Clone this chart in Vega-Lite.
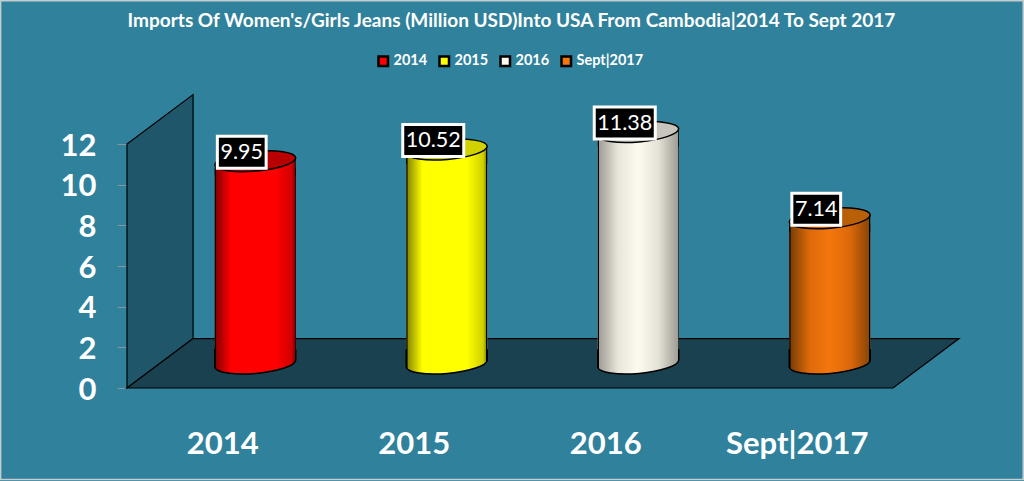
{
"$schema":"https://vega.github.io/schema/vega-lite/v6.json",
"width":766,"height":244,
"autosize":{"type":"none"},
"padding":{"left":127,"top":144,"right":131,"bottom":93},
"background":"#30819b",
"config":{"view":{"stroke":null},"font":"Lato"},
"title":{"text":"Imports Of Women's/Girls Jeans (Million USD)Into USA From Cambodia|2014 To Sept 2017","anchor":"middle","frame":"group","offset":-31,"dx":1.5,"color":"#ffffff","font":"Lato","fontWeight":"bold","fontSize":19},
"datasets":{
"values":[{"label":"2014","value":9.95},{"label":"2015","value":10.52},{"label":"2016","value":11.38},{"label":"Sept|2017","value":7.14}],
"border":[{"x":-0.66,"x2":4.68,"y":-4.5,"y2":19.04}],
"wall":[{"x":0,"y":12,"y2":0},{"x":0.345,"y":14.43,"y2":2.43}],
"floor":[{"x":0,"y":0,"y2":0},{"x":0.345,"y":2.43,"y2":0},{"x":4,"y":2.43,"y2":0},{"x":4.345,"y":2.43,"y2":2.43}]
},
"resolve":{"scale":{"x":"independent"}},
"layer":[
{"layer":[
{"data":{"name":"border"},"mark":{"type":"rect","fill":"transparent","stroke":"#c4cdd0","strokeWidth":1.5},"encoding":{"x2":{"field":"x2"},"y2":{"field":"y2"},"x":{"field":"x","type":"quantitative","scale":{"domain":[0,4],"nice":false,"zero":false},"axis":null},"y":{"field":"y","type":"quantitative","scale":{"domain":[0,12],"nice":false},"axis":{"values":[0,2,4,6,8,10,12],"grid":false,"domain":false,"ticks":true,"tickColor":"#7f98a2","tickSize":10,"tickWidth":1,"labelColor":"#ffffff","labelFont":"Lato","labelFontWeight":"bold","labelFontSize":31,"labelPadding":21,"labelOffset":2,"title":null}}}},
{"data":{"name":"wall"},"mark":{"type":"area","fill":"#20566a","stroke":"#000000","strokeWidth":1.2,"opacity":1},"encoding":{"x":{"field":"x","type":"quantitative"},"y":{"field":"y","type":"quantitative"},"y2":{"field":"y2"}}},
{"data":{"name":"floor"},"mark":{"type":"area","fill":"#1a4150","stroke":"#000000","strokeWidth":1.2,"opacity":1},"encoding":{"x":{"field":"x","type":"quantitative"},"y":{"field":"y","type":"quantitative"},"y2":{"field":"y2"}}}
]},
{"data":{"name":"values"},
"encoding":{
"x":{"field":"label","type":"nominal","scale":{"type":"band","domain":["2014","2015","2016","Sept|2017"],"paddingInner":0,"paddingOuter":0},"axis":{"orient":"bottom","labelAngle":0,"ticks":false,"domain":false,"grid":false,"labelColor":"#ffffff","labelFont":"Lato","labelFontWeight":"bold","labelFontSize":31,"labelPadding":41,"title":null}},
"y":{"field":"value","type":"quantitative","stack":null}
},
"layer":[
{"mark":{"type":"bar","size":81,"xOffset":32.5,"yOffset":-18,"y2Offset":-31},"encoding":{"y2":{"datum":0},
"fill":{"field":"label","type":"nominal","scale":{"domain":["2014","2015","2016","Sept|2017"],"range":["#ff0000","#ffff00","#fdfbf0","#f5760c"]},"legend":{"orient":"none","legendX":249,"legendY":-90,"direction":"horizontal","columns":4,"title":null,"symbolType":"square","symbolSize":90,"symbolStrokeColor":"#000000","symbolStrokeWidth":2.5,"labelColor":"#ffffff","labelFont":"Lato","labelFontWeight":"bold","labelFontSize":14.5,"labelOffset":3,"columnPadding":6,"padding":0}}}},
{"layer":[
{"mark":{"type":"bar","size":81,"xOffset":32.5,"yOffset":-18,"y2Offset":-31},"encoding":{"y2":{"datum":0}}},
{"mark":{"type":"point","filled":true,"opacity":1,"shape":"M-1,-0.35L-1,0.087A1.004,0.25,-5,0,0,1,-0.087L1,-0.35","size":6561,"xOffset":32.5,"yOffset":-24.5,"stroke":"#000000","strokeWidth":1.5},"encoding":{"y":{"datum":0}}},
{"mark":{"type":"point","filled":true,"opacity":1,"shape":"M-1,0.087L-1,0.35L1,0.35L1,-0.087","size":6561,"xOffset":32.5,"yOffset":-24.5,"strokeWidth":0},"encoding":{}}
],
"encoding":{"fill":{"condition":[
{"test":"datum.label==='2014'","value":{"gradient":"linear","x1":0,"x2":1,"y1":0,"y2":0,"stops":[{"offset":0,"color":"#000000"},{"offset":0.012,"color":"#000000"},{"offset":0.02,"color":"#8c0000"},{"offset":0.2,"color":"#ff0000"},{"offset":0.75,"color":"#ff0000"},{"offset":0.95,"color":"#d00000"},{"offset":0.985,"color":"#900000"},{"offset":0.99,"color":"#000000"},{"offset":1,"color":"#000000"}]}},
{"test":"datum.label==='2015'","value":{"gradient":"linear","x1":0,"x2":1,"y1":0,"y2":0,"stops":[{"offset":0,"color":"#000000"},{"offset":0.012,"color":"#000000"},{"offset":0.02,"color":"#8c8c00"},{"offset":0.2,"color":"#ffff00"},{"offset":0.75,"color":"#ffff00"},{"offset":0.95,"color":"#d0d000"},{"offset":0.985,"color":"#909000"},{"offset":0.99,"color":"#000000"},{"offset":1,"color":"#000000"}]}},
{"test":"datum.label==='2016'","value":{"gradient":"linear","x1":0,"x2":1,"y1":0,"y2":0,"stops":[{"offset":0,"color":"#000000"},{"offset":0.012,"color":"#000000"},{"offset":0.02,"color":"#a09e96"},{"offset":0.25,"color":"#e8e6da"},{"offset":0.5,"color":"#fdfbf0"},{"offset":0.75,"color":"#e4e2d6"},{"offset":0.985,"color":"#a09e96"},{"offset":0.99,"color":"#000000"},{"offset":1,"color":"#000000"}]}}
],"value":{"gradient":"linear","x1":0,"x2":1,"y1":0,"y2":0,"stops":[{"offset":0,"color":"#000000"},{"offset":0.012,"color":"#000000"},{"offset":0.02,"color":"#7c3f06"},{"offset":0.25,"color":"#de6a0a"},{"offset":0.5,"color":"#f5760c"},{"offset":0.75,"color":"#dc680a"},{"offset":0.985,"color":"#8a4606"},{"offset":0.99,"color":"#000000"},{"offset":1,"color":"#000000"}]}}}
},
{"mark":{"type":"point","filled":true,"opacity":1,"shape":"M-1,0.087A1.004,0.25,-5,0,1,1,-0.087A1.004,0.25,-5,0,1,-1,0.087Z","size":6561,"xOffset":32.5,"yOffset":-24.5,"stroke":"#000000","strokeWidth":1.5},
"encoding":{"fill":{"condition":[
{"test":"datum.label==='2014'","value":"#b80000"},
{"test":"datum.label==='2015'","value":"#d2d200"},
{"test":"datum.label==='2016'","value":"#c8c6bc"}
],"value":"#b85f08"}}},
{"mark":{"type":"point","filled":true,"opacity":1,"fill":"#000000","stroke":"#ffffff","strokeWidth":3,"size":3721,"xOffset":19,"yOffset":-33.5},
"encoding":{"shape":{"condition":{"test":"datum.value>=10","value":"M-1,-0.525H1V0.525H-1Z"},"value":"M-0.8,-0.525H0.8V0.525H-0.8Z"}}},
{"mark":{"type":"text","color":"#ffffff","font":"Lato","fontSize":21.5,"xOffset":19,"yOffset":-33,"align":"center","baseline":"middle"},
"encoding":{"text":{"field":"value","type":"quantitative","format":".2f"}}}
]}
]
}
